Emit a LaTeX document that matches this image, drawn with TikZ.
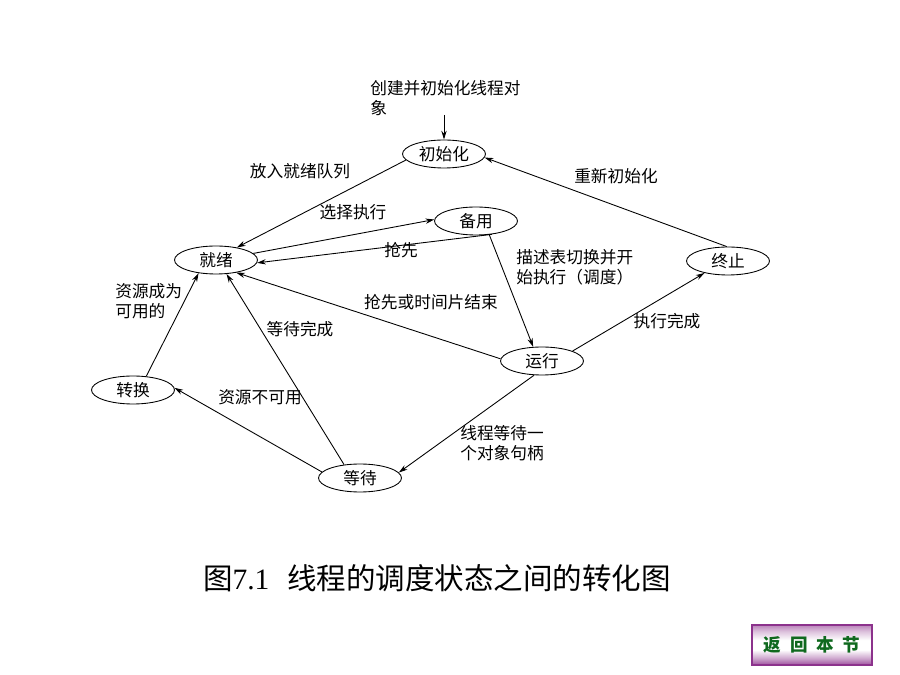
\documentclass[tikz,border=0pt]{standalone}
\usepackage{fontspec}
\setmainfont{Noto Sans CJK SC}
\newfontfamily\numfont{Liberation Serif}
\usetikzlibrary{shapes.geometric,arrows.meta}
\definecolor{btnpurple}{RGB}{140,50,140}
\definecolor{btngreen}{RGB}{15,105,30}
\pgfdeclareverticalshading{btnshade}{100bp}{color(0bp)=(btnpurple!85); color(25bp)=(btnpurple!85);
  color(33bp)=(btnpurple!45); color(44bp)=(white); color(56bp)=(white); color(67bp)=(btnpurple!30);
  color(75bp)=(btnpurple!60); color(100bp)=(btnpurple!60)}

\begin{document}
\begin{tikzpicture}[x=0.02cm, y=-0.02cm,
  state/.style={draw, ellipse, line width=0.5pt, minimum width=1.66cm, minimum height=0.56cm, inner sep=0pt, font=\fontsize{9.5}{11}\selectfont},
  lbl/.style={inner sep=0pt, font=\fontsize{9.5}{11.3}\selectfont},
  lblleft/.style={lbl, anchor=west, align=left},
  arr/.style={line width=0.5pt, -{Stealth[length=5pt,width=3pt]}},
  backbtn/.style={draw=btnpurple, line width=1.2pt, shading=btnshade,
    minimum width=2.4cm, minimum height=0.8cm, text=btngreen, font=\fontsize{10}{12}\selectfont\bfseries}]
\useasboundingbox (0,0) rectangle (900,675);

\node[state] (init) at (444,154) {初始化};
\node[state] (spare) at (476,221) {备用};
\node[state] (ready) at (216,260) {就绪};
\node[state] (term) at (728,261) {终止};
\node[state] (run) at (542,361) {运行};
\node[state] (trans) at (133,390) {转换};
\node[state] (wait) at (360,478) {等待};

\node[lblleft] (newtxt) at (370,98) {创建并初始化线程对\\象};
\coordinate (newend) at (444,115);
\draw[arr] (newend) -- (init.north);

\node[lbl] (putq) at (300,171) {放入就绪队列};
\draw[arr] (init.189) -- (ready.31);

\node[lbl] (select) at (353,212) {选择执行};
\draw[arr] (ready.10) -- (spare.178);

\node[lbl] (preempt) at (401,250) {抢先};
\draw[arr] (spare.320) -- (ready.356);

\node[lblleft] (switch) at (516,267) {描述表切换并开\\始执行（调度）};
\draw[arr] (spare.314) -- (run.122);

\node[lbl] (slice) at (431,302) {抢先或时间片结束};
\draw[arr] (run.177) -- (ready.328);

\node[lbl] (done) at (667,321) {执行完成};
\draw[arr] (run.18) -- (term.207);

\node[lbl] (reinit) at (616,176) {重新初始化};
\draw[arr] (term.95) -- (init.355);

\node[lblleft] (waitobj) at (460,443) {线程等待一\\个对象句柄};
\draw[arr] (run.241) -- (wait.8);

\node[lbl] (waitdone) at (300,329) {等待完成};
\draw[arr] (wait.140) -- (ready.307);

\node[lbl] (nores) at (260,397) {资源不可用};
\draw[arr] (wait.171) -- (trans.3);

\node[lblleft] (resok) at (115,301) {资源成为\\可用的};
\draw[arr] (trans.46) -- (ready.217);

\node[inner sep=0pt, font=\fontsize{16.8}{20}\selectfont] (caption) at (437,578) {图{\numfont 7.1}\hspace{0.6em}线程的调度状态之间的转化图};

\node[backbtn] (back) at (812,645) {返\hspace{5pt}回\hspace{5pt}本\hspace{5pt}节};

\end{tikzpicture}
\end{document}
